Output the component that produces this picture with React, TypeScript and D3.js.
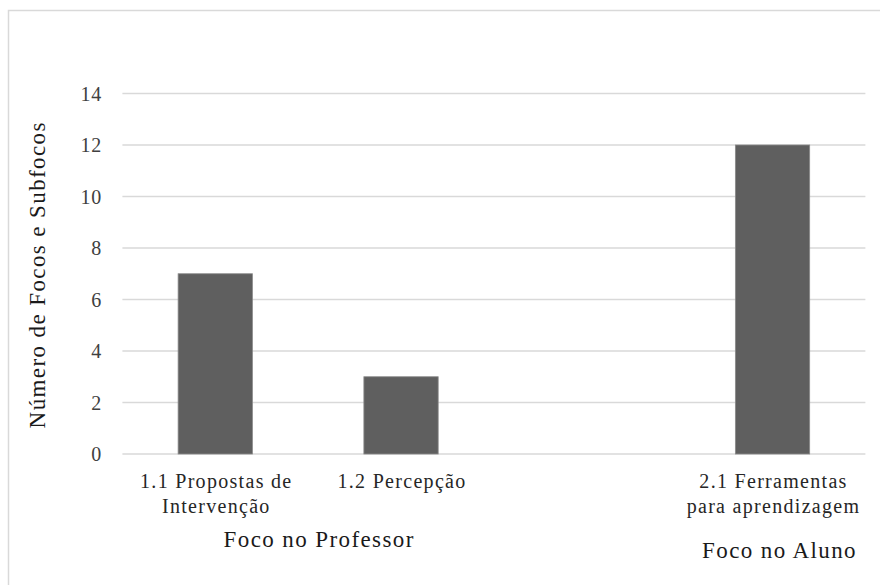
import React, { useEffect, useRef } from 'react';
import * as d3 from 'd3';

const categories = ['1.1 Propostas de|Intervenção', '1.2 Percepção', '', '2.1 Ferramentas|para aprendizagem'];
const values = [7, 3, null, 12];
const yTicks = [0, 2, 4, 6, 8, 10, 12, 14];
const groupLabels = ['Foco no Professor', 'Foco no Aluno'];
const yTitle = 'Número de Focos e Subfocos';

const App = () => {
    const chartRef = useRef<SVGSVGElement>(null);

    useEffect(() => {
        if (chartRef.current) {
            drawChart();
        }
    }, []);

    const drawChart = () => {
        const svg = d3.select(chartRef.current);
        svg.selectAll('*').remove();

        const font = 'Liberation Serif, Times New Roman, serif';
        const left = 122.4;
        const right = 865.4;
        const top = 93.5;
        const bottom = 454;

        // outer chart border (runs off the right/bottom edge like the original)
        svg.append('rect')
            .attr('x', 8.5)
            .attr('y', 10.5)
            .attr('width', 900)
            .attr('height', 600)
            .attr('fill', '#fff')
            .attr('stroke', '#d9d9d9')
            .attr('stroke-width', 1.5);

        const keys = categories.map((d, i) => 'c' + i);
        const x = d3.scaleBand<string>()
            .domain(keys)
            .range([left, right])
            .paddingInner(0.6)
            .paddingOuter(0.3);

        const y = d3.scaleLinear().domain([0, 14]).range([bottom, top]);

        // gridlines
        svg.append('g')
            .selectAll('line')
            .data(yTicks)
            .enter()
            .append('line')
            .attr('x1', left)
            .attr('x2', right)
            .attr('y1', d => y(d))
            .attr('y2', d => y(d))
            .attr('stroke', '#d9d9d9')
            .attr('stroke-width', 1.5);

        // tick labels
        svg.append('g')
            .selectAll('text')
            .data(yTicks)
            .enter()
            .append('text')
            .attr('x', 102)
            .attr('y', d => y(d) + 7)
            .attr('text-anchor', 'end')
            .style('font-family', font)
            .attr('font-size', 20)
            .attr('letter-spacing', 0.8)
            .attr('fill', '#404040')
            .text(d => d);

        // bars
        const barData = values
            .map((v, i) => ({ key: keys[i], value: v }))
            .filter(d => d.value !== null) as { key: string; value: number }[];

        svg.append('g')
            .selectAll('rect')
            .data(barData)
            .enter()
            .append('rect')
            .attr('x', d => x(d.key)!)
            .attr('y', d => y(d.value))
            .attr('width', x.bandwidth())
            .attr('height', d => y(0) - y(d.value))
            .attr('fill', '#5f5f5f')
            .attr('stroke', '#8a8a8a')
            .attr('stroke-width', 0.8);

        // category labels
        const catG = svg.append('g')
            .style('font-family', font)
            .attr('font-size', 20)
            .attr('letter-spacing', 1.3)
            .attr('fill', '#262626')
            .attr('text-anchor', 'middle');

        categories.forEach((c, i) => {
            if (!c) return;
            const cx = x(keys[i])! + x.bandwidth() / 2;
            c.split('|').forEach((line, j) => {
                catG.append('text')
                    .attr('x', cx + 1)
                    .attr('y', 488 + j * 25)
                    .text(line);
            });
        });

        // group labels
        const groupX = [
            (x(keys[0])! + x(keys[1])! + x.bandwidth()) / 2 + 11,
            x(keys[3])! + x.bandwidth() / 2 + 7,
        ];
        const groupY = [547, 558];
        svg.append('g')
            .selectAll('text')
            .data(groupLabels)
            .enter()
            .append('text')
            .attr('x', (d, i) => groupX[i])
            .attr('y', (d, i) => groupY[i])
            .attr('text-anchor', 'middle')
            .style('font-family', font)
            .attr('font-size', 23)
            .attr('letter-spacing', 1.4)
            .attr('fill', '#1a1a1a')
            .text(d => d);

        // y axis title
        svg.append('text')
            .attr('transform', `translate(45, ${(top + bottom) / 2 + 1}) rotate(-90)`)
            .attr('text-anchor', 'middle')
            .style('font-family', font)
            .attr('font-size', 23)
            .attr('letter-spacing', 1.4)
            .attr('fill', '#1a1a1a')
            .text(yTitle);
    };

    return (
        <svg
            ref={chartRef}
            width="880"
            height="585"
            style={{ position: 'absolute', left: 0, top: 0, background: '#fff' }}
        />
    );
};

export default App;
